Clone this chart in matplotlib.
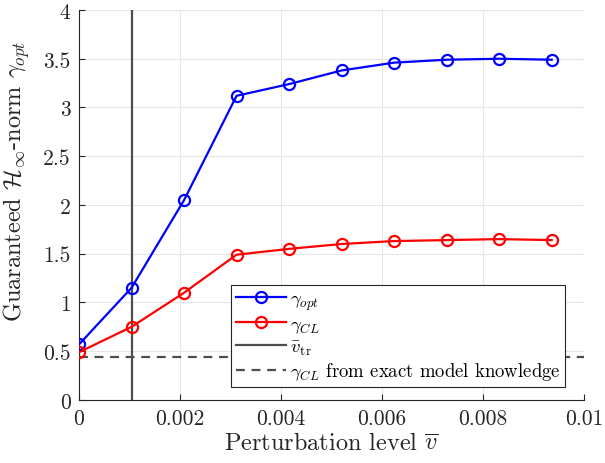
import matplotlib
matplotlib.use("Agg")
import matplotlib.pyplot as plt
from matplotlib.ticker import FuncFormatter

plt.rcParams['font.family'] = 'cmr10'
plt.rcParams['mathtext.fontset'] = 'cm'
plt.rcParams['axes.formatter.use_mathtext'] = True

# perturbation levels and guaranteed norms
v_bar = [0.0, 0.00104, 0.00208, 0.00312, 0.00416, 0.0052, 0.00624, 0.00728, 0.00832, 0.00936]
gamma_opt = [0.57, 1.15, 2.05, 3.12, 3.24, 3.38, 3.46, 3.49, 3.50, 3.49]
gamma_cl = [0.49, 0.75, 1.10, 1.49, 1.55, 1.60, 1.63, 1.64, 1.65, 1.64]
v_tr = 0.00104
gamma_cl_exact = 0.44

fig = plt.figure(figsize=(6.05, 4.64), dpi=100)
ax = fig.add_axes([0.1306, 0.1358, 0.8347, 0.8405])

ax.plot(v_bar, gamma_opt, color='#0000ff', lw=1.6, marker='o', ms=8,
        mfc='none', mew=1.6, label=r'$\gamma_{opt}$', zorder=4)
ax.plot(v_bar, gamma_cl, color='#ff0000', lw=1.6, marker='o', ms=8,
        mfc='none', mew=1.6, label=r'$\gamma_{CL}$', zorder=4)
ax.axvline(v_tr, color='#4d4d4d', lw=1.6, label=r'$\bar{v}_{\mathrm{tr}}$', zorder=3)
ax.axhline(gamma_cl_exact, color='#4d4d4d', lw=1.6, ls=(0, (4, 3)),
           label=r'$\gamma_{CL}$ from exact model knowledge', zorder=3)

ax.set_xlim(0, 0.01)
ax.set_ylim(0, 4)
ax.set_xticks([0, 0.002, 0.004, 0.006, 0.008, 0.01])
ax.set_yticks([0, 0.5, 1, 1.5, 2, 2.5, 3, 3.5, 4])
ax.xaxis.set_major_formatter(FuncFormatter(lambda v, p: '%g' % v))
ax.yaxis.set_major_formatter(FuncFormatter(lambda v, p: '%g' % v))
ax.tick_params(direction='in', labelsize=15.5, color='#262626', length=4,
               labelcolor='#262626')
ax.tick_params(axis='x', pad=6)
ax.tick_params(axis='y', pad=6)
ax.grid(True, color='#e6e6e6', lw=0.8)
ax.set_axisbelow(True)
for s in ['top', 'right']:
    ax.spines[s].set_visible(False)
for s in ['left', 'bottom']:
    ax.spines[s].set_color('#262626')

ax.set_xlabel(r'Perturbation level $\overline{v}$', fontsize=17.5, labelpad=3,
              color='#262626')
ax.set_ylabel(r'Guaranteed $\mathcal{H}_\infty$-norm $\gamma_{opt}$', fontsize=17.5,
              color='#262626')
ax.yaxis.set_label_coords(-0.094, 0.564)

leg = ax.legend(loc='lower left', bbox_to_anchor=(0.301, 0.033), fontsize=13.5,
                fancybox=False, framealpha=1, edgecolor='#262626', borderaxespad=0,
                handlelength=2.7, borderpad=0.25, labelspacing=0.18, handletextpad=0.2)
leg.get_frame().set_linewidth(0.8)

fig.savefig('out.png', dpi=100)
